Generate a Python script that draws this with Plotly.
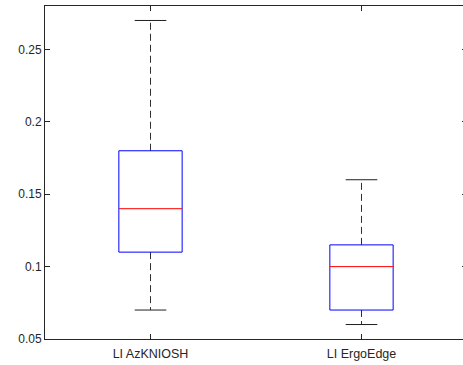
import plotly.graph_objects as go

categories = ["LI AzKNIOSH", "LI ErgoEdge"]
lower_whisker = [0.07, 0.06]
q1 = [0.11, 0.07]
median = [0.14, 0.10]
q3 = [0.18, 0.115]
upper_whisker = [0.27, 0.16]
y_ticks = [0.05, 0.1, 0.15, 0.2, 0.25]
y_tick_labels = ["0.05", "0.1", "0.15", "0.2", "0.25"]

BOX_HALF = 0.15
CAP_HALF = 0.075

fig = go.Figure()
for i, cat in enumerate(categories):
    pos = i + 1
    # whiskers (dashed)
    fig.add_trace(go.Scatter(
        x=[pos, pos, None, pos, pos],
        y=[q3[i], upper_whisker[i], None, q1[i], lower_whisker[i]],
        mode="lines", line=dict(color="#303030", width=1, dash="7px,4px"),
        hoverinfo="skip", showlegend=False))
    # caps
    fig.add_trace(go.Scatter(
        x=[pos - CAP_HALF, pos + CAP_HALF, None, pos - CAP_HALF, pos + CAP_HALF],
        y=[upper_whisker[i], upper_whisker[i], None, lower_whisker[i], lower_whisker[i]],
        mode="lines", line=dict(color="#202020", width=1),
        hoverinfo="skip", showlegend=False))
    # box
    fig.add_trace(go.Scatter(
        x=[pos - BOX_HALF, pos + BOX_HALF, pos + BOX_HALF, pos - BOX_HALF, pos - BOX_HALF],
        y=[q1[i], q1[i], q3[i], q3[i], q1[i]],
        mode="lines", line=dict(color="#0000ff", width=1),
        hoverinfo="skip", showlegend=False))
    # median
    fig.add_trace(go.Scatter(
        x=[pos - BOX_HALF, pos + BOX_HALF],
        y=[median[i], median[i]],
        mode="lines", line=dict(color="#ff0000", width=1),
        hoverinfo="skip", showlegend=False))

axis_common = dict(
    showline=True, linecolor="#262626", linewidth=1, mirror="ticks",
    ticks="inside", ticklen=5, tickcolor="#262626", showgrid=False, zeroline=False,
    automargin=False,
    tickfont=dict(family="Liberation Sans, Arial, sans-serif", size=12, color="#262626"),
)

fig.update_layout(
    width=467, height=365,
    margin=dict(l=45, r=0, t=6, b=26, pad=0),
    paper_bgcolor="white", plot_bgcolor="white",
    xaxis=dict(range=[0.5, 2.5], tickvals=[1, 2], ticktext=categories, **axis_common),
    yaxis=dict(range=[0.05, 0.28], tickvals=y_ticks, ticktext=y_tick_labels, **axis_common),
)
fig.update_xaxes(tickfont=dict(size=12.5), ticklabelstandoff=3)

fig.write_html(
    "out.html",
    config={"displayModeBar": False},
    post_script="document.body.style.margin='0';document.body.style.overflow='hidden';",
)
